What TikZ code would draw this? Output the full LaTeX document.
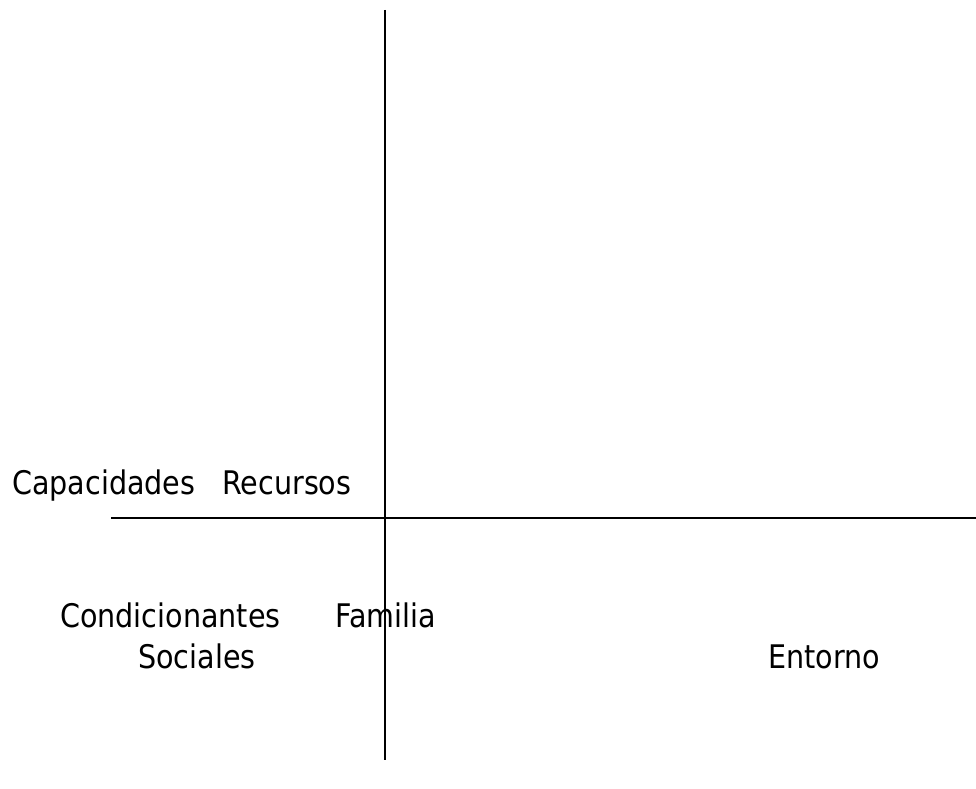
\documentclass[tikz,border=0pt]{standalone}
\usepackage{fontspec}
\setmainfont{DejaVu Sans}
\newcommand{\narrowtxt}[1]{\scalebox{0.88}[1]{#1}}
\begin{document}
\begin{tikzpicture}[x=1pt,y=1pt,
  lbl/.style={anchor=base west,inner sep=0pt,font=\fontsize{32.5}{36}\selectfont},
  axis/.style={line width=1.8pt,black}]
\useasboundingbox (0,0) rectangle (976,788);
\coordinate (vtop) at (385,778);
\coordinate (vbot) at (385,28);
\coordinate (hleft) at (111,270);
\coordinate (hright) at (976,270);
\draw[axis] (vtop) -- (vbot);
\draw[axis] (hleft) -- (hright);
\node[lbl] (cap) at (12,294) {\narrowtxt{Capacidades}};
\node[lbl] (rec) at (222,294) {\narrowtxt{Recursos}};
\node[lbl] (cond) at (60,161) {\narrowtxt{Condicionantes}};
\node[lbl] (fam) at (335,161) {\narrowtxt{Familia}};
\node[lbl] (soc) at (138,120) {\narrowtxt{Sociales}};
\node[lbl] (ent) at (768,120) {\narrowtxt{Entorno}};
\end{tikzpicture}
\end{document}
